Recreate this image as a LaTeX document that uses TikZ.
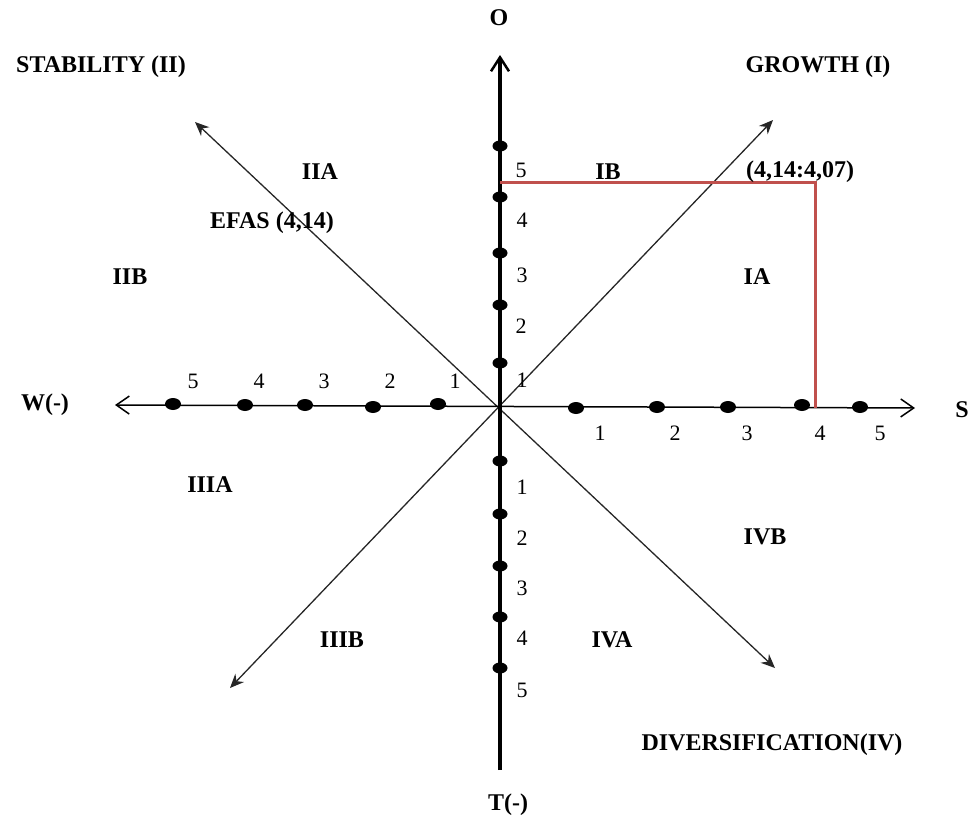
\documentclass[tikz,border=0pt]{standalone}
\usepackage{fontspec}
\setmainfont{Liberation Serif}
\usepackage{tikz}
\usetikzlibrary{
  arrows.meta,
  shapes.geometric,
  positioning
}
\definecolor{efasred}{RGB}{192,80,77}
\tikzset{
  axis/.style={line width=1.5pt, {Straight Barb[length=13pt,width=18pt]}-{Straight Barb[length=13pt,width=18pt]}},
  vaxis/.style={line width=4pt, -{Straight Barb[length=14pt,width=18pt,line width=2.5pt]}},
  diag/.style={line width=1.3pt, black!85, {Stealth[length=14pt,width=12pt]}-{Stealth[length=14pt,width=12pt]}},
  dot/.style={ellipse, fill=black, minimum width=16pt, minimum height=12pt, inner sep=0pt},
  vdot/.style={ellipse, fill=black, minimum width=15pt, minimum height=11pt, inner sep=0pt},
  lbl/.style={font=\fontsize{24}{26}\selectfont\bfseries, inner sep=0pt},
  num/.style={font=\fontsize{22}{24}\selectfont, inner sep=0pt},
  redline/.style={draw=efasred, line width=3pt}
}

\begin{document}
\begin{tikzpicture}[x=1pt, y=-1pt]
\useasboundingbox (0,0) rectangle (972,819);

% Axis ends
\coordinate (origin) at (500,407);
\coordinate (wend) at (115,405);
\coordinate (send) at (915,408);
\coordinate (oend) at (500,55);
\coordinate (tend) at (500,770);
\coordinate (iiend) at (195,122);
\coordinate (ivend) at (775,668);
\coordinate (iend) at (773,120);
\coordinate (iiiend) at (230,688);

% Diagonals
\draw[diag] (iiend) -- (ivend);
\draw[diag] (iiiend) -- (iend);

% Axes
\draw[axis] (wend) -- (send);
\draw[vaxis] (tend) -- (oend);

% EFAS point
\coordinate (efas) at (815,182);
\draw[redline] (500,182) -- (efas) -- (815,408);

% Dots on W axis
\node[dot] (w5) at (173,404) {};
\node[dot] (w4) at (245,405) {};
\node[dot] (w3) at (305,405) {};
\node[dot] (w2) at (373,407) {};
\node[dot] (w1) at (438,404) {};

% Dots on S axis
\node[dot] (s1) at (576,408) {};
\node[dot] (s2) at (657,407) {};
\node[dot] (s3) at (728,407) {};
\node[dot] (s4) at (802,405) {};
\node[dot] (s5) at (860,407) {};

% Dots on O axis
\node[vdot] (o5) at (500,146) {};
\node[vdot] (o4) at (500,197) {};
\node[vdot] (o3) at (500,253) {};
\node[vdot] (o2) at (500,305) {};
\node[vdot] (o1) at (500,363) {};

% Dots on T axis
\node[vdot] (t1) at (500,461) {};
\node[vdot] (t2) at (500,514) {};
\node[vdot] (t3) at (500,566) {};
\node[vdot] (t4) at (500,617) {};
\node[vdot] (t5) at (500,668) {};

% Scale numbers
\node[num] at (193,381) {5};
\node[num] at (259,381) {4};
\node[num] at (324,381) {3};
\node[num] at (390,381) {2};
\node[num] at (455,381) {1};
\node[num] at (600,433) {1};
\node[num] at (675,433) {2};
\node[num] at (747,433) {3};
\node[num] at (820,433) {4};
\node[num] at (880,433) {5};
\node[num] at (521,170) {5};
\node[num] at (522,220) {4};
\node[num] at (522,275) {3};
\node[num] at (521,326) {2};
\node[num] at (522,380) {1};
\node[num] at (522,487) {1};
\node[num] at (522,538) {2};
\node[num] at (522,588) {3};
\node[num] at (522,638) {4};
\node[num] at (522,690) {5};

% Axis labels
\node[lbl] (o) at (499,18) {O};
\node[lbl] (t) at (508,805) {T(-)};
\node[lbl] (w) at (45,405) {W(-)};
\node[lbl] (s) at (962,410) {S};

% Quadrant labels
\node[lbl] (growth) at (818,67) {GROWTH (I)};
\node[lbl] (stability) at (101,67) {STABILITY (II)};
\node[lbl] (diversification) at (772,745) {DIVERSIFICATION(IV)};

% Sub-areas
\node[lbl] (ia) at (757,277) {IA};
\node[lbl] (ib) at (608,172) {IB};
\node[lbl] (iia) at (320,172) {IIA};
\node[lbl] (iib) at (130,277) {IIB};
\node[lbl] (iiia) at (210,485) {IIIA};
\node[lbl] (iiib) at (342,640) {IIIB};
\node[lbl] (iva) at (612,640) {IVA};
\node[lbl] (ivb) at (765,537) {IVB};

% Values
\node[lbl] (efasval) at (272,223) {EFAS (4,14)};
\node[lbl] (pointval) at (800,172) {(4,14:4,07)};

\end{tikzpicture}
\end{document}
